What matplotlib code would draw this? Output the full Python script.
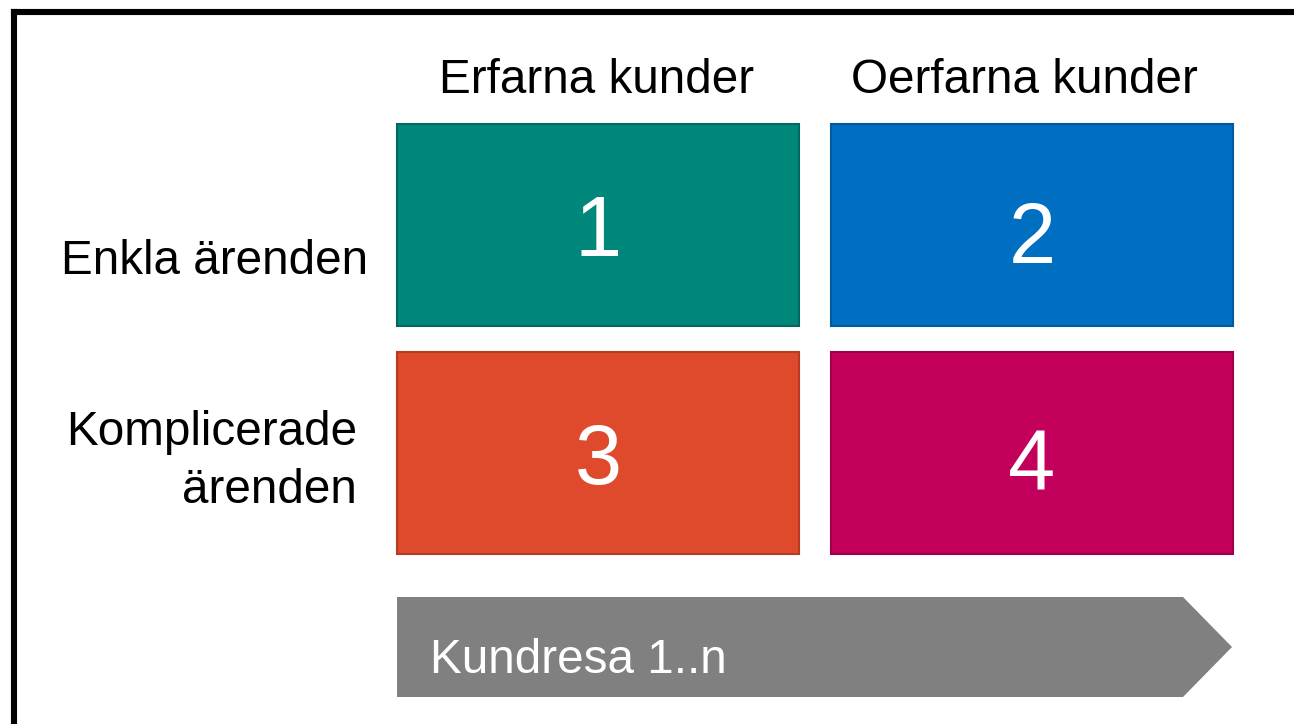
import matplotlib
matplotlib.use("Agg")
import matplotlib.pyplot as plt
from matplotlib.patches import Rectangle, Polygon

plt.rcParams['font.family'] = ['Liberation Sans', 'DejaVu Sans']

# Data
col_labels = ["Erfarna kunder", "Oerfarna kunder"]
row_labels = ["Enkla ärenden", "Komplicerade\närenden"]
cell_numbers = [["1", "2"], ["3", "4"]]
cell_colors = [["#00877A", "#006FC1"], ["#DF4A2C", "#C4005D"]]
edge_colors = [["#00685E", "#005A9C"], ["#B83A20", "#9E004A"]]
arrow_label = "Kundresa 1..n"

W, H = 1294, 724
fig = plt.figure(figsize=(W / 100, H / 100), dpi=100)
ax = fig.add_axes([0, 0, 1, 1])
ax.set_xlim(0, W)
ax.set_ylim(H, 0)
ax.axis('off')

FS = 34.3

# frame (top and left visible)
ax.plot([13.5, W + 10], [12, 12], color='black', lw=4.4, solid_capstyle='projecting')
ax.plot([13.5, 13.5], [12, H + 10], color='black', lw=4.4, solid_capstyle='projecting')

col_x = [397, 831]
row_y = [124, 352]
bw, bh = 402, 202
digit_base = [[256, 263], [484, 490]]

for i in range(2):
    for j in range(2):
        x, y = col_x[j], row_y[i]
        ax.add_patch(Rectangle((x, y), bw, bh, facecolor=cell_colors[i][j],
                               edgecolor=edge_colors[i][j], lw=1.5))
        ax.text(x + bw / 2, digit_base[i][j], cell_numbers[i][j],
                color='white', fontsize=61, ha='center', va='baseline')

col_centers = [597, 1024]
for j in range(2):
    ax.text(col_centers[j], 93, col_labels[j], fontsize=FS,
            ha='center', va='baseline', color='black')

ax.text(368, 274, row_labels[0], fontsize=FS, ha='right', va='baseline',
        color='black')
for k, line in enumerate(row_labels[1].split("\n")):
    ax.text(357, 445 + 58 * k, line, fontsize=FS, ha='right', va='baseline',
            color='black')

# arrow
ax.add_patch(Polygon([(397, 597), (1183, 597), (1232, 647), (1183, 697),
                      (397, 697)], closed=True, facecolor='#808080',
                     edgecolor='none'))
ax.text(430, 673, arrow_label, fontsize=FS, ha='left', va='baseline',
        color='white')

fig.savefig("out.png", dpi=100)
